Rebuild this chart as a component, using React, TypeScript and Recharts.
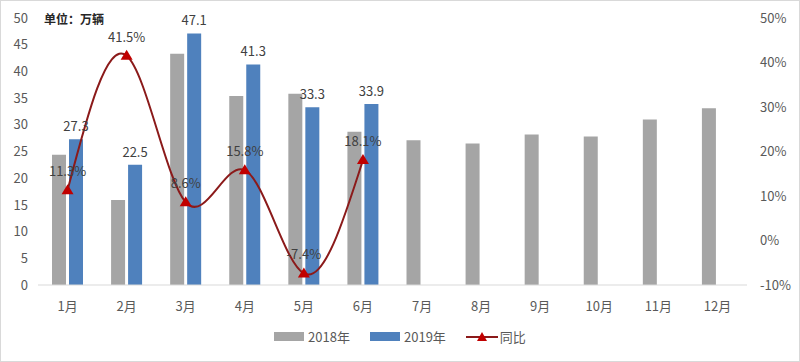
import {
  Bar,
  ComposedChart,
  LabelList,
  Legend,
  Line,
  XAxis,
  YAxis,
} from "recharts";

const months = ["1月", "2月", "3月", "4月", "5月", "6月", "7月", "8月", "9月", "10月", "11月", "12月"];
const sales2018 = [24.4, 15.9, 43.3, 35.4, 35.8, 28.7, 27.1, 26.5, 28.2, 27.8, 31.0, 33.1];
const sales2019: (number | null)[] = [27.3, 22.5, 47.1, 41.3, 33.3, 33.9, null, null, null, null, null, null];
const yoy: (number | null)[] = [11.3, 41.5, 8.6, 15.8, -7.4, 18.1, null, null, null, null, null, null];

const leftTicks = [0, 5, 10, 15, 20, 25, 30, 35, 40, 45, 50];
const rightTicks = [-10, 0, 10, 20, 30, 40, 50];

const FONT = "'Noto Sans CJK SC', 'Noto Sans', sans-serif";
const GRAY = "#a5a5a5";
const BLUE = "#4f81bd";
const LINE = "#8b1a1a";
const MARK = "#c00000";

const data = months.map((m, i) => ({
  month: m,
  s2018: sales2018[i],
  s2019: sales2019[i],
  yoy: yoy[i],
}));

function Triangle(props: any) {
  const { cx, cy, value } = props;
  if (value == null || cx == null || cy == null) return null;
  return <path d={`M${cx},${cy - 6} L${cx + 6},${cy + 4} L${cx - 6},${cy + 4} Z`} fill={MARK} />;
}

function LegendBox() {
  return (
    <div style={{ display: "flex", justifyContent: "center", alignItems: "center", fontFamily: FONT, fontSize: 13, color: "#595959" }}>
      <span style={{ display: "inline-block", width: 30, height: 9, background: GRAY, marginRight: 4 }} />
      <span style={{ marginRight: 20 }}>2018年</span>
      <span style={{ display: "inline-block", width: 30, height: 9, background: BLUE, marginRight: 4 }} />
      <span style={{ marginRight: 20 }}>2019年</span>
      <svg width={32} height={12} style={{ marginRight: 2 }}>
        <line x1={0} y1={6} x2={32} y2={6} stroke={LINE} strokeWidth={2} />
        <path d="M16,1 L21,10 L11,10 Z" fill={MARK} />
      </svg>
      <span>同比</span>
    </div>
  );
}

export default function App() {
  return (
    <div style={{ position: "absolute", left: 0, top: 0, width: 798, height: 360, border: "1px solid #d9d9d9", background: "#fff" }}>
      <div style={{ position: "absolute", left: 43, top: 9, fontFamily: FONT, fontSize: 12, fontWeight: 700, color: "#262626" }}>
        单位：万辆
      </div>
      <ComposedChart
        width={798}
        height={360}
        data={data}
        margin={{ top: 17, right: 0, left: 0, bottom: 0 }}
        barSize={14}
        barGap={3}
      >
        <XAxis
          dataKey="month"
          axisLine={{ stroke: "#d9d9d9" }}
          tickLine={false}
          tickSize={0}
          tickMargin={17}
          height={40}
          tick={{ fill: "#595959", fontSize: 13, fontFamily: FONT }}
        />
        <YAxis
          yAxisId="left"
          domain={[0, 50]}
          ticks={leftTicks}
          width={37}
          axisLine={false}
          tickLine={false}
          tickSize={0}
          tickMargin={10}
          tick={{ fill: "#595959", fontSize: 13, fontFamily: FONT }}
        />
        <YAxis
          yAxisId="right"
          orientation="right"
          domain={[-10, 50]}
          ticks={rightTicks}
          width={52}
          axisLine={false}
          tickLine={false}
          tickSize={0}
          tickMargin={13}
          tickFormatter={(v) => `${v}%`}
          tick={{ fill: "#595959", fontSize: 13, fontFamily: FONT, textAnchor: "start" }}
        />
        <Legend
          verticalAlign="bottom"
          height={36}
          content={() => <LegendBox />}
          wrapperStyle={{ bottom: -2 }}
        />
        <Bar yAxisId="left" dataKey="s2018" fill={GRAY} isAnimationActive={false} />
        <Bar yAxisId="left" dataKey="s2019" fill={BLUE} isAnimationActive={false}>
          <LabelList dataKey="s2019" position="top" offset={8} fill="#404040" fontSize={13} fontFamily={FONT} />
        </Bar>
        <Line
          yAxisId="right"
          type="natural"
          dataKey="yoy"
          stroke={LINE}
          strokeWidth={2}
          dot={<Triangle />}
          activeDot={false}
          isAnimationActive={false}
          connectNulls={false}
        >
          <LabelList
            dataKey="yoy"
            position="top"
            offset={14}
            fill="#404040"
            fontSize={13}
            fontFamily={FONT}
            formatter={(v: any) => (v == null ? "" : `${v}%`)}
          />
        </Line>
      </ComposedChart>
    </div>
  );
}
